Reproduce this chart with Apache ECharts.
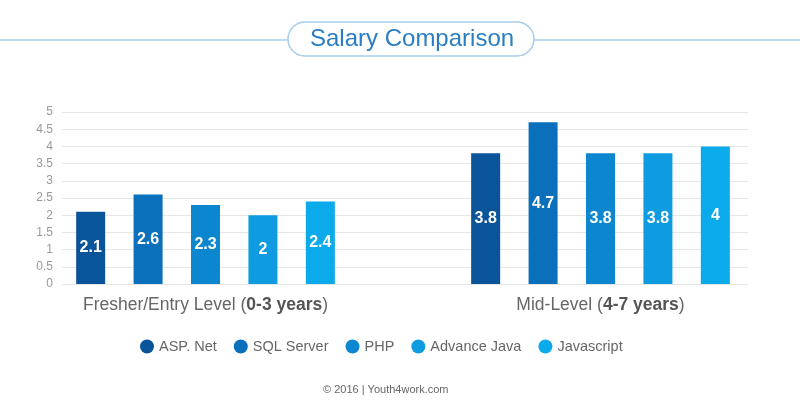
<!DOCTYPE html>
<html>
<head>
<meta charset="utf-8">
<script src="https://cdn.jsdelivr.net/npm/echarts@6/dist/echarts.min.js"></script>
<style>html,body{margin:0;padding:0;background:#fff;}#c{width:800px;height:400px;}</style>
</head>
<body>
<div id="c"></div>
<script>
var categories = ['Fresher/Entry Level (0-3 years)', 'Mid-Level (4-7 years)'];
var seriesNames = ['ASP. Net', 'SQL Server', 'PHP', 'Advance Java', 'Javascript'];
var aspNet = [2.1, 3.8];
var sqlServer = [2.6, 4.7];
var php = [2.3, 3.8];
var advanceJava = [2.0, 3.8];
var javascript = [2.4, 4.0];
var yTicks = [0, 0.5, 1, 1.5, 2, 2.5, 3, 3.5, 4, 4.5, 5];
var colors = ['#0a5499', '#0a70bb', '#0d86d0', '#0f9be0', '#0aaaeb'];

var seriesData = [aspNet, sqlServer, php, advanceJava, javascript];
var font = 'Liberation Sans, Arial, Helvetica, sans-serif';

var chart = echarts.init(document.getElementById('c'), null, {renderer: 'canvas'});
var option = {
  animation: false,
  color: colors,
  textStyle: {fontFamily: font},
  title: [{
    text: 'Salary Comparison',
    left: 288,
    top: 22,
    padding: [5, 20, 5, 22],
    borderColor: '#a6cdec',
    borderWidth: 1.5,
    borderRadius: 18,
    backgroundColor: '#fff',
    textStyle: {fontSize: 24, fontWeight: 'normal', color: '#2a7dc2', fontFamily: font}
  }, {
    text: '\u00a9 2016 | Youth4work.com',
    left: 318,
    top: 379,
    textStyle: {fontSize: 11, fontWeight: 'normal', color: '#666', fontFamily: font}
  }],
  graphic: [{
    type: 'line',
    z: 0,
    shape: {x1: 0, y1: 40, x2: 800, y2: 40},
    style: {stroke: '#aacfee', lineWidth: 1.5}
  }],
  legend: {
    top: 334,
    left: 135,
    icon: 'circle',
    itemWidth: 14,
    itemHeight: 14,
    itemGap: 17,
    textStyle: {fontSize: 14.5, color: '#666', fontFamily: font},
    data: seriesNames
  },
  grid: [
    {left: 62, right: 52, top: 112, bottom: 116},
    {left: 8, right: 2, top: 112, bottom: 116}
  ],
  xAxis: [
    {gridIndex: 0, type: 'category', data: categories, show: false},
    {
      gridIndex: 1, type: 'category', data: categories,
      axisLine: {show: false}, axisTick: {show: false},
      axisLabel: {
        margin: 12, fontSize: 17.5, color: '#666', fontFamily: font,
        formatter: function (v) { return v.replace(/\((.*)\)/, '({b|$1})'); },
        rich: {b: {fontWeight: 'bold', fontSize: 17.5, color: '#555', fontFamily: font}}
      }
    }
  ],
  yAxis: [
    {
      gridIndex: 0, type: 'value', min: yTicks[0], max: yTicks[yTicks.length - 1],
      interval: yTicks[1] - yTicks[0],
      axisLine: {show: false}, axisTick: {show: false},
      axisLabel: {fontSize: 12, color: '#999', margin: 9, fontFamily: font},
      splitLine: {lineStyle: {color: '#e6e6e6', width: 1}}
    },
    {
      gridIndex: 1, type: 'value', min: yTicks[0], max: yTicks[yTicks.length - 1],
      show: false, splitLine: {show: false}
    }
  ],
  series: seriesNames.map(function (name, i) {
    return {
      name: name,
      type: 'bar',
      xAxisIndex: 1,
      yAxisIndex: 1,
      data: seriesData[i],
      barWidth: 29,
      barGap: '98%',
      itemStyle: {color: colors[i]},
      label: {
        show: true, position: 'inside', color: '#fff',
        fontWeight: 'bold', fontSize: 16, fontFamily: font
      }
    };
  })
};
chart.setOption(option);
</script>
</body>
</html>
